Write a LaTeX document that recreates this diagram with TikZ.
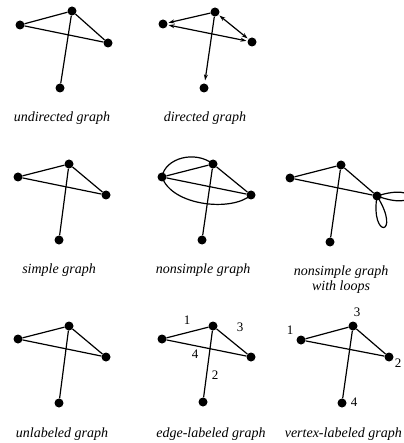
\documentclass[tikz,border=0pt]{standalone}
\usepackage{fontspec}
\setmainfont{Liberation Serif}
\usetikzlibrary{arrows.meta}
\begin{document}
\begin{tikzpicture}[x=1pt,y=-1pt,
  dot/.style={circle,fill=black,minimum size=9pt,inner sep=0pt},
  edge/.style={line width=1.2pt},
  captext/.style={font=\fontsize{14}{15}\selectfont\itshape,align=center},
  num/.style={font=\fontsize{13}{14}\selectfont},
  arr/.style={-{Stealth[length=6pt,width=4pt]}},
  barr/.style={{Stealth[length=6pt,width=4pt]}-{Stealth[length=6pt,width=4pt]}}]
\useasboundingbox (0,0) rectangle (403,443);
% 1 undirected
\node[dot] (a1) at (20,25) {};
\node[dot] (b1) at (72,11) {};
\node[dot] (c1) at (108,43) {};
\node[dot] (d1) at (60,88) {};
\draw[edge] (a1)--(b1) (a1)--(c1) (b1)--(c1) (b1)--(d1);
\node[captext] (t1) at (62,118) {undirected graph};
% 2 directed
\node[dot] (a2) at (163,24) {};
\node[dot] (b2) at (215,12) {};
\node[dot] (c2) at (252,42) {};
\node[dot] (d2) at (204,88) {};
\draw[edge,arr,shorten >=1pt] (b2)--(a2);
\draw[edge,barr,shorten >=1pt,shorten <=1pt] (a2)--(c2);
\draw[edge,barr,shorten >=1pt,shorten <=1pt] (b2)--(c2);
\draw[edge,arr,shorten >=3pt] (b2)--(d2);
\node[captext] (t2) at (205,118) {directed graph};
% 3 simple
\node[dot] (a3) at (18,177) {};
\node[dot] (b3) at (69,164) {};
\node[dot] (c3) at (106,195) {};
\node[dot] (d3) at (59,240) {};
\draw[edge] (a3)--(b3) (a3)--(c3) (b3)--(c3) (b3)--(d3);
\node[captext] (t3) at (59,270) {simple graph};
% 4 nonsimple
\node[dot] (a4) at (162,177) {};
\node[dot] (b4) at (213,164) {};
\node[dot] (c4) at (251,195) {};
\node[dot] (d4) at (202,240) {};
\draw[edge] (a4)--(b4) (a4)--(c4) (b4)--(c4) (b4)--(d4);
\draw[edge] (a4.center) .. controls (165,158) and (195,150) .. (b4.center);
\draw[edge] (a4.center) .. controls (172,206) and (232,212) .. (c4.center);
\node[captext] (t4) at (203,270) {nonsimple graph};
% 5 loops
\node[dot] (a5) at (290,178) {};
\node[dot] (b5) at (341,165) {};
\node[dot] (c5) at (377,196) {};
\node[dot] (d5) at (330,242) {};
\draw[edge] (a5)--(b5) (a5)--(c5) (b5)--(c5) (b5)--(d5);
\draw[edge] (c5.center) .. controls (420,182) and (420,212) .. (c5.center);
\draw[edge] (c5.center) .. controls (370,240) and (402,236) .. (c5.center);
\node[captext] (t5) at (341,280) {nonsimple graph\\with loops};
% 6 unlabeled
\node[dot] (a6) at (18,339) {};
\node[dot] (b6) at (69,326) {};
\node[dot] (c6) at (106,357) {};
\node[dot] (d6) at (59,403) {};
\draw[edge] (a6)--(b6) (a6)--(c6) (b6)--(c6) (b6)--(d6);
\node[captext] (t6) at (62,434) {unlabeled graph};
% 7 edge-labeled
\node[dot] (a7) at (162,339) {};
\node[dot] (b7) at (213,326) {};
\node[dot] (c7) at (251,357) {};
\node[dot] (d7) at (203,402) {};
\draw[edge] (a7)--(b7) (a7)--(c7) (b7)--(c7) (b7)--(d7);
\node[num] (l71) at (187,320) {1};
\node[num] (l73) at (240,327) {3};
\node[num] (l74) at (195,354) {4};
\node[num] (l72) at (215,375) {2};
\node[captext] (t7) at (211,434) {edge-labeled graph};
% 8 vertex-labeled
\node[dot] (a8) at (301,340) {};
\node[dot] (b8) at (353,326) {};
\node[dot] (c8) at (389,357) {};
\node[dot] (d8) at (342,403) {};
\draw[edge] (a8)--(b8) (a8)--(c8) (b8)--(c8) (b8)--(d8);
\node[num] (l81) at (290,330) {1};
\node[num] (l83) at (357,312) {3};
\node[num] (l82) at (398,363) {2};
\node[num] (l84) at (354,402) {4};
\node[captext,anchor=east,inner xsep=0pt] (t8) at (402,434) {vertex-labeled graph};
\end{tikzpicture}
\end{document}
